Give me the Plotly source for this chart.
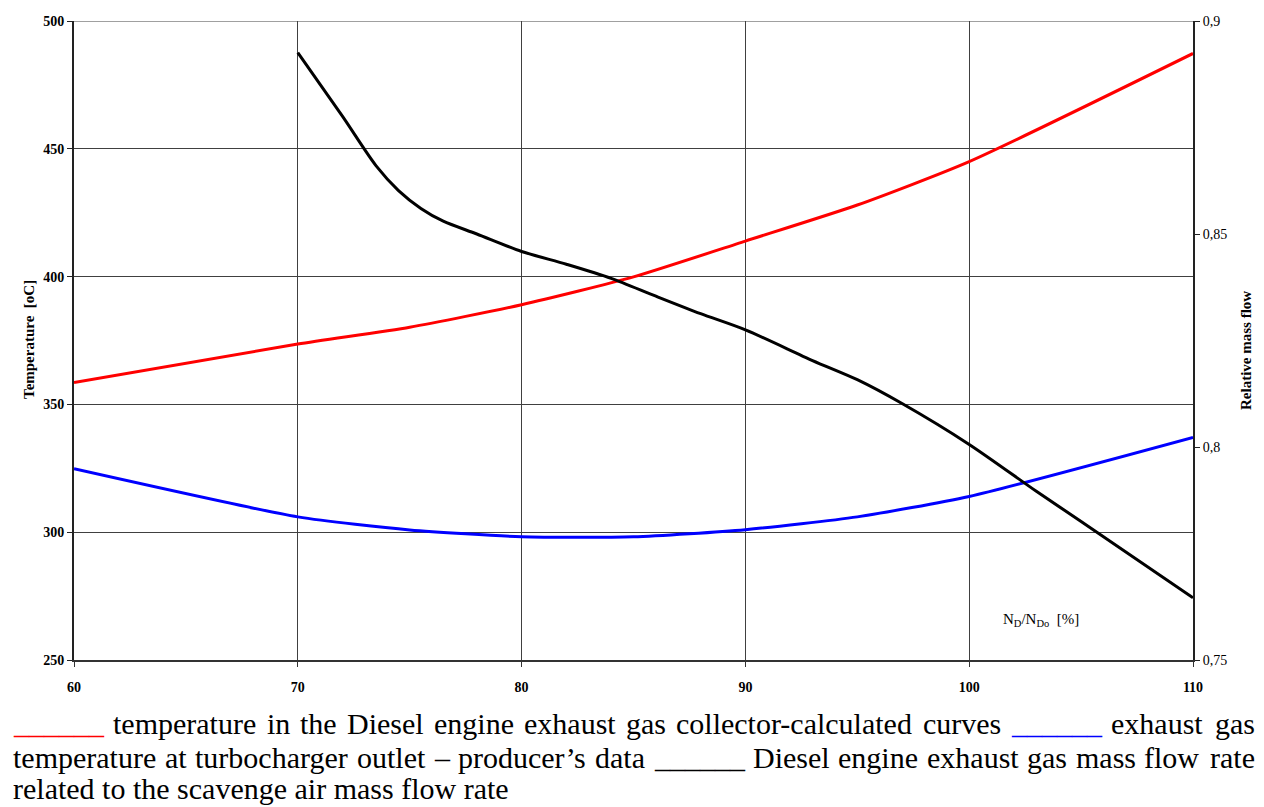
import plotly.graph_objects as go

# ---- data ----
x_temp = [60, 70, 75, 80, 85, 90, 95, 100, 110]
t_collector = [358.6, 373.6, 380.2, 389.0, 399.9, 413.9, 428.0, 445.0, 487.3]
t_turbo_out = [324.8, 306.0, 300.9, 298.2, 298.2, 301.0, 306.0, 314.0, 337.1]

x_flow = [70, 72, 73.5, 74.5, 75.5, 76.5, 78, 80, 82, 84, 86, 88, 90, 93, 95, 97, 100, 103, 105, 110]
rel_flow = [0.8926, 0.8776, 0.8660, 0.8602, 0.8560, 0.8530, 0.8500, 0.8459, 0.8429,
            0.8396, 0.8354, 0.8313, 0.8275, 0.8203, 0.8158, 0.8102, 0.8006, 0.7896,
            0.7825, 0.7646]

x_ticks = [60, 70, 80, 90, 100, 110]
y_ticks = [250, 300, 350, 400, 450, 500]
y2_ticks = [0.75, 0.8, 0.85, 0.9]
y2_ticktext = ["0,75", "0,8", "0,85", "0,9"]

# caption: list of lines, each a list of (word, colour)
caption_line1 = [("______", "#ff0000"), ("temperature", None), ("in", None), ("the", None),
                 ("Diesel", None), ("engine", None), ("exhaust", None), ("gas", None),
                 ("collector-calculated", None), ("curves", None), ("______", "#0000ff"),
                 ("exhaust", None), ("gas", None)]
caption_line2 = [("temperature", None), ("at", None), ("turbocharger", None), ("outlet", None),
                 ("\u2013", None), ("producer\u2019s", None), ("data", None), ("______", "#000000"),
                 ("Diesel", None), ("engine", None), ("exhaust", None), ("gas", None),
                 ("mass", None), ("flow", None), ("rate", None)]
caption_line3 = "related to the scavenge air mass flow rate"

SERIF = "Liberation Serif"
# page body has an 8px margin: size the figure so the plot lands where the reference has it
OFF = 8
SCR_W, SCR_H = 1264, 807
PLOT_L, PLOT_R, PLOT_T, PLOT_B = 74, 1193, 21, 660   # screen pixels of the plot area
W, H = SCR_W - OFF, SCR_H - OFF
ml = PLOT_L - OFF
mt = PLOT_T - OFF
pw = PLOT_R - PLOT_L
ph = PLOT_B - PLOT_T
mr = W - ml - pw
mb = H - mt - ph


def px_x(p):
    return (p - PLOT_L) / pw


def px_y(p):
    return (PLOT_B - p) / ph


# Times-compatible advance widths (per 1000 em) for justification
TW = dict(a=444, b=500, c=444, d=500, e=444, f=333, g=500, h=500, i=278, j=278, k=500, l=278,
          m=778, n=500, o=500, p=500, q=500, r=333, s=389, t=278, u=500, v=500, w=722, x=500,
          y=500, z=444, D=722)
TW.update({" ": 250, "-": 333, "_": 500, "\u2013": 500, "\u2019": 333})


def text_w(s, size):
    return sum(TW.get(ch, 500) for ch in s) * size / 1000.0


fig = go.Figure()
fig.add_trace(go.Scatter(x=x_temp, y=t_collector, mode="lines",
                         line=dict(color="#ff0000", width=3, shape="spline", smoothing=0.6),
                         showlegend=False, hoverinfo="skip"))
fig.add_trace(go.Scatter(x=x_temp, y=t_turbo_out, mode="lines",
                         line=dict(color="#0000ff", width=3, shape="spline", smoothing=0.6),
                         showlegend=False, hoverinfo="skip"))
fig.add_trace(go.Scatter(x=x_flow, y=rel_flow, mode="lines", yaxis="y2",
                         line=dict(color="#000000", width=3, shape="spline", smoothing=0.8),
                         showlegend=False, hoverinfo="skip"))

annotations = [
    dict(x=103.2, y=265.5, xref="x", yref="y", showarrow=False,
         text="N<sub>D</sub>/N<sub>Do</sub>  [%]", font=dict(family=SERIF, size=15, color="black")),
    dict(x=px_x(29), y=px_y(340), xref="paper", yref="paper", showarrow=False, textangle=-90,
         xanchor="center", yanchor="middle",
         text="Temperature  [oC]", font=dict(family=SERIF, size=15, color="black", weight="bold")),
    dict(x=px_x(1246), y=px_y(351), xref="paper", yref="paper", showarrow=False, textangle=-90,
         xanchor="center", yanchor="middle",
         text="Relative mass flow", font=dict(family=SERIF, size=15, color="black", weight="bold")),
]

CAP_SIZE = 30
left_px, right_px = 11, 1257
for words, base in ((caption_line1, 733), (caption_line2, 767)):
    widths = [text_w(w, CAP_SIZE) for w, _ in words]
    gap = (right_px - 6 - left_px - sum(widths)) / (len(words) - 1)
    xpos = left_px
    n = len(words)
    for k, ((w, col), wd) in enumerate(zip(words, widths)):
        txt = w if col is None else "<span style='color:%s'>%s</span>" % (col, w)
        last = k == n - 1
        annotations.append(dict(x=px_x(right_px if last else xpos), y=px_y(base - 10),
                                xref="paper", yref="paper",
                                xanchor="right" if last else "left", yanchor="middle",
                                showarrow=False, text=txt,
                                font=dict(family=SERIF, size=CAP_SIZE, color="black")))
        xpos += wd + gap
annotations.append(dict(x=px_x(left_px), y=px_y(798 - 10), xref="paper", yref="paper",
                        xanchor="left", yanchor="middle", showarrow=False, text=caption_line3,
                        font=dict(family=SERIF, size=CAP_SIZE, color="black")))

fig.update_layout(
    width=W, height=H,
    margin=dict(l=ml, r=mr, t=mt, b=mb),
    paper_bgcolor="white", plot_bgcolor="white",
    font=dict(family=SERIF, color="black"),
    xaxis=dict(range=[60, 110], tickvals=x_ticks, showgrid=True, gridcolor="#404040", gridwidth=1,
               showline=True, linecolor="#333333", linewidth=2, ticks="outside", ticklen=5,
               tickcolor="#333333", zeroline=False, automargin=False,
               tickfont=dict(family=SERIF, size=14, color="black", weight="bold"),
               ticklabelstandoff=8),
    yaxis=dict(range=[250, 500], tickvals=y_ticks, showgrid=True, gridcolor="#404040", gridwidth=1,
               showline=True, linecolor="#222222", linewidth=2, ticks="outside", ticklen=5,
               tickcolor="#222222", zeroline=False, automargin=False,
               tickfont=dict(family=SERIF, size=14, color="black", weight="bold")),
    yaxis2=dict(range=[0.75, 0.9], overlaying="y", side="right", tickvals=y2_ticks,
                ticktext=y2_ticktext, showgrid=False, zeroline=False, automargin=False,
                showline=True, linecolor="#222222", linewidth=2, ticks="outside", ticklen=5,
                tickcolor="#222222",
                tickfont=dict(family=SERIF, size=14, color="black")),
    shapes=[dict(type="line", xref="paper", yref="y", x0=0, x1=1, y0=500, y1=500,
                 line=dict(color="#808080", width=1.5), layer="below")],
    annotations=annotations,
)

fig.write_html("out.html")
